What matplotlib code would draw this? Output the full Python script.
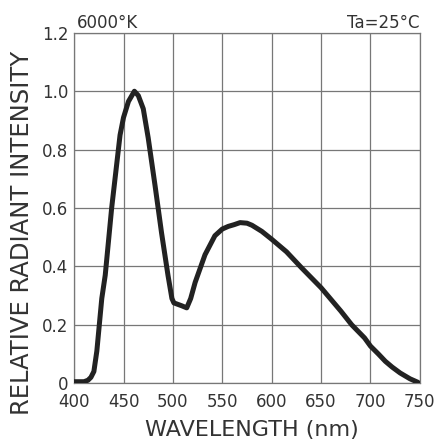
import matplotlib.pyplot as plt

plt.rcParams['font.family'] = ['DejaVu Sans']

# spectrum
wavelength = [400, 405, 410, 414, 417, 420, 423, 425.5, 428, 431.5, 438, 446.5, 450, 455,
              461, 465, 470, 475, 482, 488.5, 495, 499, 501, 505, 509, 514, 518, 522.5,
              532.5, 542.5, 550, 556, 562, 568, 575, 580, 590, 600, 615, 630, 650, 670,
              681, 694, 700, 708, 715, 722, 730, 740, 748]
intensity = [0.005, 0.005, 0.005, 0.01, 0.02, 0.04, 0.11, 0.2, 0.29, 0.37, 0.6, 0.85, 0.91, 0.965,
             1.0, 0.985, 0.94, 0.84, 0.675, 0.515, 0.37, 0.29, 0.275, 0.27, 0.265, 0.258, 0.29, 0.345,
             0.44, 0.505, 0.528, 0.537, 0.543, 0.55, 0.548, 0.541, 0.52, 0.493, 0.45, 0.396, 0.327, 0.247,
             0.2, 0.155, 0.127, 0.1, 0.075, 0.055, 0.035, 0.015, 0.003]

xticks = [400, 450, 500, 550, 600, 650, 700, 750]
yticks = [0, 0.2, 0.4, 0.6, 0.8, 1.0, 1.2]
ylabels = ['0', '0.2', '0.4', '0.6', '0.8', '1.0', '1.2']

fig = plt.figure(figsize=(4.36, 4.44), dpi=100)
ax = fig.add_axes([0.170, 0.137, 0.793, 0.789])

ax.plot(wavelength, intensity, color='#222222', linewidth=3.6, solid_capstyle='round',
        solid_joinstyle='round', zorder=3)

ax.set_xlim(400, 750)
ax.set_ylim(0, 1.2)
ax.set_xticks(xticks)
ax.set_yticks(yticks)
ax.set_yticklabels(ylabels)
ax.grid(True, color='#777777', linewidth=0.9)
ax.tick_params(length=0, labelsize=12, colors='#333333')
ax.tick_params(axis='x', pad=7)
ax.tick_params(axis='y', pad=4)
for s in ax.spines.values():
    s.set_color('#777777')
    s.set_linewidth(0.9)

ax.set_xlabel('WAVELENGTH (nm)', fontsize=16, color='#333333')
ax.set_ylabel('RELATIVE RADIANT INTENSITY', fontsize=17.5, color='#333333')
ax.xaxis.set_label_coords(0.513, -0.104)
ax.yaxis.set_label_coords(-0.115, 0.43)

ax.annotate('6000°K', xy=(0.008, 1.0), xycoords='axes fraction', xytext=(0, 3.6),
            textcoords='offset points', fontsize=12, color='#333333', ha='left', va='baseline')
ax.annotate('Ta=25°C', xy=(1.0, 1.0), xycoords='axes fraction', xytext=(0, 3.6),
            textcoords='offset points', fontsize=12, color='#333333', ha='right', va='baseline')

fig.savefig('out.png', dpi=100)
